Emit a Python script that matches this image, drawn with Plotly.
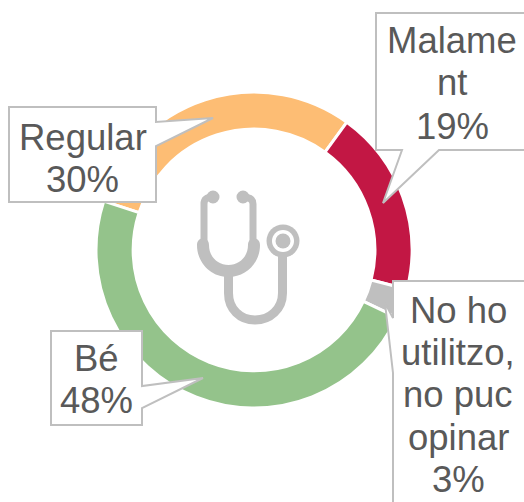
import plotly.graph_objects as go

W, H = 524, 502
categories = ["Regular", "Malament", "No ho utilitzo, no puc opinar", "Bé"]
values = [30, 19, 3, 48]
colors = ["#FDBD74", "#C21744", "#BFBFBF", "#94C38B"]

GRAY = "#BFBFBF"
TEXT = "#595959"


def px(x):
    return x / W


def py(y):
    return 1 - y / H


def path(cmds):
    out = []
    for c in cmds:
        if c[0] == "Z":
            out.append("Z")
        else:
            nums = c[1:]
            pts = [f"{px(nums[i])} {py(nums[i + 1])}" for i in range(0, len(nums), 2)]
            out.append(c[0] + " " + " ".join(pts))
    return " ".join(out)


def pshape(cmds, fill=None, line=None, width=0):
    d = dict(type="path", xref="paper", yref="paper", layer="above", path=path(cmds),
             line=dict(color=line or "rgba(0,0,0,0)", width=width))
    if fill:
        d["fillcolor"] = fill
    return d


def circle(cx, cy, r, fill):
    return dict(type="circle", xref="paper", yref="paper", layer="above",
                x0=px(cx - r), x1=px(cx + r), y0=py(cy + r), y1=py(cy - r),
                fillcolor=fill, line=dict(width=0))


shapes = []
# callouts
callouts = [
    [("M", 376, 13), ("L", 530, 13), ("L", 530, 150), ("L", 439, 150), ("L", 383, 203), ("L", 402, 150), ("L", 376, 150), ("Z",)],
    [("M", 9, 107), ("L", 156, 107), ("L", 156, 122), ("L", 213, 118), ("L", 156, 146), ("L", 156, 202), ("L", 9, 202), ("Z",)],
    [("M", 51, 331), ("L", 142, 331), ("L", 142, 386), ("L", 203, 378), ("L", 142, 408), ("L", 142, 425), ("L", 51, 425), ("Z",)],
    [("M", 393, 281), ("L", 530, 281), ("L", 530, 510), ("L", 393, 510), ("L", 393, 373), ("L", 385, 303), ("L", 393, 318), ("Z",)],
]
for c in callouts:
    shapes.append(pshape(c, fill="white", line=GRAY, width=2))

# stethoscope
shapes += [
    pshape([("M", 213, 197), ("C", 208, 197, 204, 198, 204, 204), ("L", 204, 245)], line=GRAY, width=7),
    pshape([("M", 243, 197), ("C", 248, 197, 253, 198, 253, 204), ("L", 253, 245)], line=GRAY, width=7),
    circle(213, 197, 6.5, GRAY),
    circle(243, 197, 6.5, GRAY),
    pshape([("M", 197, 245), ("C", 197, 236, 209, 236, 209, 245), ("C", 209, 257, 218, 265, 228.5, 265),
            ("C", 239, 265, 248, 257, 248, 245), ("C", 248, 236, 260, 236, 260, 245),
            ("C", 260, 263, 246, 277, 228.5, 277), ("C", 211, 277, 197, 263, 197, 245), ("Z",)], fill=GRAY),
    pshape([("M", 228.5, 272), ("L", 228.5, 293), ("C", 228.5, 309, 240, 320, 255, 320),
            ("C", 270, 320, 282.5, 309, 282.5, 293), ("L", 282.5, 250)], line=GRAY, width=9),
    circle(283, 241, 16.5, GRAY),
    circle(283, 241, 11, "white"),
    circle(283, 241, 7.5, GRAY),
]

label_lines = [
    ("Malame", 452, 40), ("nt", 452, 83), ("19%", 452, 126),
    ("Regular", 83, 137), ("30%", 83, 179),
    ("Bé", 96, 358), ("48%", 96, 400),
    ("No ho", 458, 310), ("utilitzo,", 458, 352), ("no puc", 458, 394), ("opinar", 458, 437), ("3%", 458, 479),
]
annotations = [
    dict(text=t, x=px(x), y=py(y), xref="paper", yref="paper", xanchor="center", yanchor="middle",
         showarrow=False, font=dict(family="Liberation Sans, Arial", size=36.5, color=TEXT))
    for t, x, y in label_lines
]

fig = go.Figure(go.Pie(
    labels=categories, values=values, sort=False, direction="clockwise", rotation=288,
    hole=0.765, marker=dict(colors=colors, line=dict(color="white", width=3)),
    textinfo="none", hoverinfo="label+percent",
    domain=dict(x=[px(96), px(412)], y=[py(408), py(92)]),
))
fig.update_layout(width=W, height=H, margin=dict(l=0, r=0, t=0, b=0), showlegend=False,
                  paper_bgcolor="white", plot_bgcolor="white", shapes=shapes, annotations=annotations)
fig.write_html("out.html", config=dict(displayModeBar=False),
               post_script="document.body.style.margin='0';document.body.style.overflow='hidden';")
